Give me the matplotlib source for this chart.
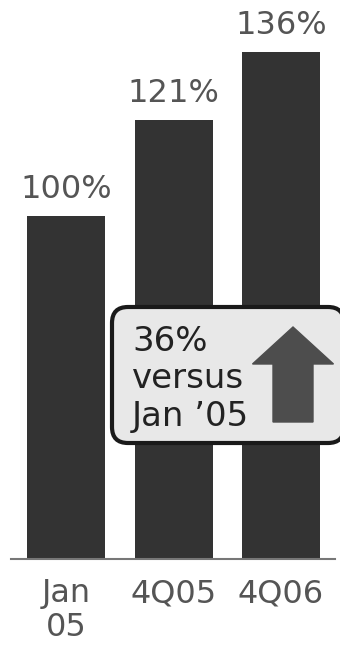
import matplotlib.pyplot as plt
from matplotlib.patches import FancyBboxPatch, FancyArrow
from matplotlib.transforms import IdentityTransform

# index values (Jan 2005 = 100%)
periods = ['Jan\n05', '4Q05', '4Q06']
values = [100, 121, 136]
change_text = "36%\nversus\nJan \u201905"

W, H = 340, 646
fig = plt.figure(figsize=(W / 100, H / 100), dpi=100)

# axes laid out in pixels: baseline at y=559 from the top, x from 11 to 335
ax = fig.add_axes([11 / W, (H - 559) / H, 324 / W, 559 / H])
ax.bar(range(len(values)), values, width=0.726, color='#333333', zorder=2)
ax.set_xlim(-0.512, 2.502)
ax.set_ylim(24.8, 147.4)

for i, v in enumerate(values):
    ax.annotate(f'{v}%', (i, v), xytext=(0, 13), textcoords='offset points',
                ha='center', va='baseline', fontsize=23, color='#555555')

for s in ['top', 'left', 'right']:
    ax.spines[s].set_visible(False)
ax.spines['bottom'].set_color('#777777')
ax.spines['bottom'].set_linewidth(1.5)
ax.set_yticks([])
ax.set_xticks(range(len(periods)))
ax.set_xticklabels(periods, fontsize=23, color='#555555', linespacing=1.1)
ax.tick_params(axis='x', length=0, pad=14)

# callout box with the growth note and an up arrow (pixel coordinates)
box = FancyBboxPatch((112, H - 443), 232, 136,
                     boxstyle='round,pad=0,rounding_size=16',
                     facecolor='#e8e8e8', edgecolor='#1a1a1a', linewidth=3,
                     transform=IdentityTransform(), zorder=5)
fig.add_artist(box)
fig.text(132 / W, (H - 325) / H, change_text, ha='left', va='top',
         fontsize=24.5, color='#222222', linespacing=1.17, zorder=6)
arrow = FancyArrow(293, H - 422, 0, 95, width=40, head_width=81,
                   head_length=37, length_includes_head=True,
                   color='#4d4d4d', transform=IdentityTransform(), zorder=6)
fig.add_artist(arrow)

fig.savefig('out.png', dpi=100)
